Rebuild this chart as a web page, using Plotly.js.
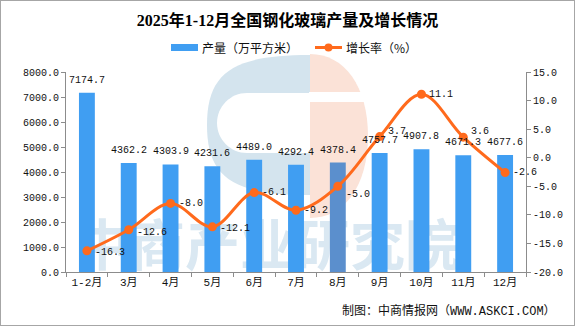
<!DOCTYPE html>
<html><head><meta charset="utf-8">
<script src="https://cdn.plot.ly/plotly-3.0.1.min.js"></script>
<style>
html,body{margin:0;padding:0;background:#fff}
#wrap{position:relative;width:575px;height:326px}
#chart{width:575px;height:326px}
#frame{position:absolute;left:0;top:0;width:575px;height:326px;box-sizing:border-box;border:1px solid #a6a6a6;pointer-events:none}
</style>
</head><body>
<div id="wrap"><div id="chart"></div><div id="frame"></div></div>
<script>
// ---- data ----
const categories = ['1-2月','3月','4月','5月','6月','7月','8月','9月','10月','11月','12月'];
const production = [7174.7, 4362.2, 4303.9, 4231.6, 4489.0, 4292.4, 4378.4, 4757.7, 4907.8, 4671.3, 4677.6];
const growth = [-16.3, -12.6, -8.0, -12.1, -6.1, -9.2, -5.0, 3.7, 11.1, 3.6, -2.6];
const seriesNames = ['产量（万平方米）', '增长率（%）'];
const leftTickVals = [0, 1000, 2000, 3000, 4000, 5000, 6000, 7000, 8000];
const rightTickVals = [-20, -15, -10, -5, 0, 5, 10, 15];
const titleText = '2025年1-12月全国钢化玻璃产量及增长情况';
const sourceText = '制图：中商情报网（WWW.ASKCI.COM）';
const watermarkText = '中商产业研究院';

// ---- styles ----
const BAR = '#409ef2';
const LINE = '#ff6a1c';
const AXIS = '#8c8c8c';
const MONO = 'Liberation Mono, Noto Sans CJK SC, monospace';
const CJK = 'Noto Sans CJK SC, sans-serif';
const barColors = categories.map((c, i) => i === 6 ? '#5b8fcd' : BAR);
const lineLabelShift = [-2, -3, 0, -2, 0, 0, -8, 5, 0, 6, 0];

// plot area in pixels
const PL = 66, PR = 526, PT = 72, PB = 272;
const fx = x => (x - PL) / (PR - PL);
const fy = y => (PB - y) / (PB - PT);
const P = (x, y) => fx(x).toFixed(4) + ',' + fy(y).toFixed(4);

function halfEllipse(cx, cy, rx, ry, side, k) {
  const s = side === 'left' ? -1 : 1;
  return 'M' + P(cx, cy - ry) +
    ' C' + P(cx + s * k * rx, cy - ry) + ' ' + P(cx + s * rx, cy - k * ry) + ' ' + P(cx + s * rx, cy) +
    ' C' + P(cx + s * rx, cy + k * ry) + ' ' + P(cx + s * k * rx, cy + ry) + ' ' + P(cx, cy + ry) + ' Z';
}
function stadiumHole(x0, y0, y1, xr) {
  const r = (y1 - y0) / 2, cy = (y0 + y1) / 2, k = 0.5523;
  return 'M' + P(xr, y0) + ' L' + P(x0 + r, y0) +
    ' C' + P(x0 + r - k * r, y0) + ' ' + P(x0, cy - k * r) + ' ' + P(x0, cy) +
    ' C' + P(x0, cy + k * r) + ' ' + P(x0 + r - k * r, y1) + ' ' + P(x0 + r, y1) +
    ' L' + P(xr, y1) + ' Z';
}
function pxRect(x0, y0, x1, y1, color) {
  return {type: 'rect', xref: 'paper', yref: 'paper', layer: 'below',
    x0: fx(x0), x1: fx(x1), y0: fy(y1), y1: fy(y0), fillcolor: color, line: {width: 0}};
}

const shapes = [
  // watermark logo
  {type: 'path', xref: 'paper', yref: 'paper', layer: 'below', path: halfEllipse(310, 125, 103, 70, 'left', 0.75), fillcolor: '#d4e4ee', line: {width: 0}},
  {type: 'path', xref: 'paper', yref: 'paper', layer: 'below', path: stadiumHole(217, 93, 153, 312), fillcolor: '#ffffff', line: {width: 0}},
  {type: 'path', xref: 'paper', yref: 'paper', layer: 'below', path: halfEllipse(310, 136, 58, 82, 'right', 0.6), fillcolor: '#fbe2d7', line: {width: 0}},
  pxRect(309, 92, 372, 102, '#ffffff'),
  // watermark text
  {type: 'rect', xref: 'paper', yref: 'paper', layer: 'below', x0: fx(70), x1: fx(465), y0: fy(277), y1: fy(223),
    fillcolor: 'rgba(0,0,0,0)', line: {width: 0},
    label: {text: watermarkText, textposition: 'middle center', font: {family: CJK, size: 55, color: '#dae8f2', weight: 'bold'}}},
  // custom legend
  pxRect(171, 44, 198, 51, BAR),
  {type: 'line', xref: 'paper', yref: 'paper', x0: fx(315), x1: fx(342), y0: fy(47.5), y1: fy(47.5), line: {color: LINE, width: 3}},
  {type: 'circle', xref: 'paper', yref: 'paper', x0: fx(324.5), x1: fx(332.5), y0: fy(51.5), y1: fy(43.5), fillcolor: LINE, line: {width: 0}}
];

const annotations = [];
production.forEach((v, i) => annotations.push({
  x: categories[i], y: v, xref: 'x', yref: 'y', text: v.toFixed(1), showarrow: false,
  yanchor: 'bottom', yshift: 5, font: {family: MONO, size: 10, color: '#111'}
}));
growth.forEach((v, i) => annotations.push({
  x: categories[i], y: v, xref: 'x', yref: 'y2', text: v.toFixed(1), showarrow: false,
  xanchor: 'left', xshift: 6, yshift: lineLabelShift[i], font: {family: MONO, size: 10, color: '#111'}
}));
annotations.push({xref: 'paper', yref: 'paper', x: fx(200), y: fy(47.5), xanchor: 'left', yanchor: 'middle',
  text: seriesNames[0], showarrow: false, font: {family: CJK, size: 12, color: '#111'}});
annotations.push({xref: 'paper', yref: 'paper', x: fx(344), y: fy(47.5), xanchor: 'left', yanchor: 'middle',
  text: seriesNames[1], showarrow: false, font: {family: CJK, size: 12, color: '#111'}});
annotations.push({xref: 'paper', yref: 'paper', x: fx(558), y: fy(311), xanchor: 'right', yanchor: 'middle',
  text: sourceText, showarrow: false, font: {family: MONO, size: 12, color: '#111'}});

const traces = [
  {type: 'bar', name: seriesNames[0], x: categories, y: production, width: 0.38,
    marker: {color: barColors}, hoverinfo: 'skip', cliponaxis: false},
  {type: 'scatter', name: seriesNames[1], x: categories, y: growth, yaxis: 'y2', mode: 'lines+markers',
    line: {color: LINE, width: 3, shape: 'spline', smoothing: 1}, marker: {color: LINE, size: 9},
    hoverinfo: 'skip', cliponaxis: false}
];

const axisCommon = {showgrid: false, zeroline: false, showline: true, linecolor: AXIS, linewidth: 1,
  ticks: 'outside', ticklen: 4, tickcolor: AXIS, tickfont: {family: MONO, size: 10, color: '#111'}};

const layout = {
  width: 575, height: 326,
  margin: {l: PL, r: 575 - PR, t: PT, b: 326 - PB, pad: 0},
  paper_bgcolor: '#fff', plot_bgcolor: 'rgba(0,0,0,0)',
  showlegend: false,
  bargap: 0.6,
  title: {text: titleText, x: 0.5, xanchor: 'center', y: 1 - 20 / 326, yanchor: 'middle', yref: 'container',
    font: {family: 'Liberation Serif, Noto Sans CJK SC, serif', size: 16, color: '#000', weight: 'bold'}},
  xaxis: Object.assign({}, axisCommon, {type: 'category', tickson: 'boundaries', ticklen: 4,
    tickfont: {family: MONO, size: 11, color: '#111'}, range: [-0.5, categories.length - 0.5]}),
  yaxis: Object.assign({}, axisCommon, {range: [0, 8000], tickvals: leftTickVals,
    ticktext: leftTickVals.map(v => v.toFixed(1))}),
  yaxis2: Object.assign({}, axisCommon, {overlaying: 'y', side: 'right', range: [-20, 15],
    tickvals: rightTickVals, ticktext: rightTickVals.map(v => v.toFixed(1))}),
  shapes: shapes,
  annotations: annotations
};

Plotly.newPlot('chart', traces, layout, {displayModeBar: false, staticPlot: true});
</script>
</body></html>
